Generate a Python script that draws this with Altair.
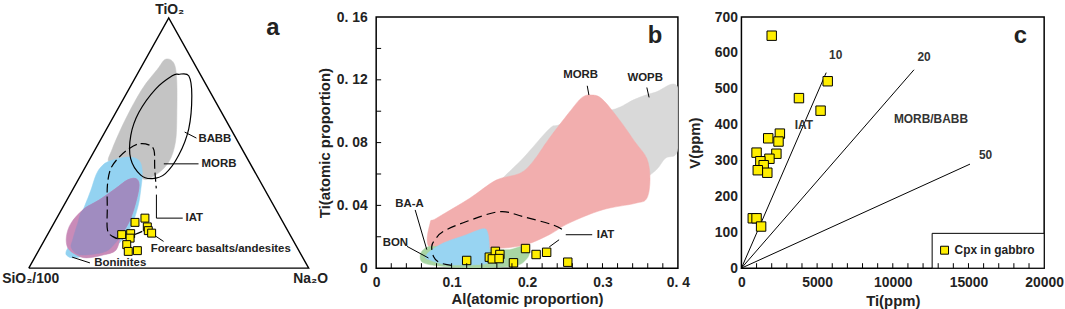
import altair as alt
import pandas as pd

FONT = "Liberation Sans"

# ---------------- panel a : ternary TiO2 (top) - Na2O (right) - SiO2/100 (left) -------------
TRI_T = [0.0, 1.0, 0.0, 0.0]
TRI_N = [0.0, 0.0, 1.0, 0.0]

A_GREY_T = [0.835, 0.821, 0.755, 0.610, 0.504, 0.425, 0.372, 0.358, 0.438, 0.425, 0.477, 0.596, 0.716, 0.795]
A_GREY_N = [0.071, 0.107, 0.151, 0.224, 0.272, 0.288, 0.267, 0.226, 0.139, 0.075, 0.060, 0.048, 0.047, 0.062]

A_BLUE_T = [0.427, 0.444, 0.431, 0.385, 0.317, 0.246, 0.167, 0.100, 0.067, 0.054, 0.041, 0.048, 0.067, 0.114, 0.180, 0.246, 0.312, 0.372, 0.405]
A_BLUE_N = [0.073, 0.130, 0.178, 0.213, 0.242, 0.267, 0.282, 0.273, 0.242, 0.189, 0.143, 0.115, 0.100, 0.100, 0.085, 0.076, 0.066, 0.054, 0.056]

A_PINK_T = [0.352, 0.358, 0.332, 0.266, 0.194, 0.131, 0.071, 0.052, 0.041, 0.054, 0.081, 0.127, 0.180, 0.233, 0.273, 0.319]
A_PINK_N = [0.176, 0.203, 0.228, 0.250, 0.265, 0.265, 0.275, 0.237, 0.185, 0.142, 0.099, 0.071, 0.061, 0.077, 0.116, 0.152]

A_PURP_T = [0.352, 0.358, 0.332, 0.266, 0.194, 0.131, 0.095, 0.067, 0.054, 0.056, 0.083, 0.114, 0.180, 0.233, 0.273, 0.319]
A_PURP_N = [0.176, 0.203, 0.228, 0.250, 0.265, 0.265, 0.257, 0.242, 0.189, 0.146, 0.110, 0.100, 0.085, 0.077, 0.116, 0.152]

A_BABB_T = [0.775, 0.769, 0.689, 0.557, 0.451, 0.378, 0.358, 0.372, 0.438, 0.531, 0.623, 0.716, 0.769]
A_BABB_N = [0.148, 0.187, 0.238, 0.293, 0.310, 0.299, 0.262, 0.214, 0.145, 0.099, 0.082, 0.095, 0.128]

A_IAT_T = [0.147, 0.118, 0.127, 0.154, 0.239, 0.332, 0.398, 0.444, 0.477, 0.497, 0.493, 0.471, 0.398, 0.319]
A_IAT_N = [0.332, 0.275, 0.236, 0.204, 0.161, 0.115, 0.094, 0.101, 0.119, 0.145, 0.182, 0.212, 0.251, 0.296]

A_LEAD_ID = ["babb", "babb", "morb", "morb", "iat", "iat", "iat", "fa", "fa", "bon", "bon"]
A_LEAD_T = [0.544, 0.520, 0.417, 0.417, 0.294, 0.200, 0.200, 0.135, 0.107, 0.044, 0.021]
A_LEAD_N = [0.285, 0.339, 0.274, 0.398, 0.309, 0.356, 0.450, 0.376, 0.428, 0.133, 0.208]

A_LABELS = ["BABB", "MORB", "IAT", "Forearc basalts/andesites", "Boninites"]
A_LABEL_T = [0.516, 0.417, 0.202, 0.075, 0.020]
A_LABEL_N = [0.348, 0.409, 0.459, 0.398, 0.224]

A_CPX_T = [0.200, 0.183, 0.165, 0.150, 0.140, 0.134, 0.138, 0.120, 0.094, 0.067, 0.070]
A_CPX_N = [0.315, 0.288, 0.341, 0.352, 0.369, 0.265, 0.295, 0.302, 0.303, 0.322, 0.353]

# ---------------- panel b : Ti vs Al (atomic proportion) ----------------
B_WOPB_AL = [0.1636, 0.1943, 0.2294, 0.2425, 0.280, 0.317, 0.3434, 0.3697, 0.400, 0.400, 0.383, 0.363, 0.300, 0.200, 0.165]
B_WOPB_TI = [0.0550, 0.0698, 0.0887, 0.0913, 0.0980, 0.1014, 0.1077, 0.1120, 0.1151, 0.0761, 0.0698, 0.0593, 0.0420, 0.0400, 0.0500]

B_MORB_AL = [0.0715, 0.080, 0.124, 0.159, 0.190, 0.2075, 0.229, 0.256, 0.273, 0.2864, 0.2996, 0.3215, 0.3434, 0.3588,
             0.363, 0.3588, 0.3434, 0.2996, 0.2557, 0.2294, 0.1987, 0.168, 0.120, 0.0715]
B_MORB_TI = [0.0287, 0.0318, 0.0445, 0.0561, 0.0603, 0.0677, 0.0824, 0.0993, 0.1088, 0.1103, 0.1077, 0.0951, 0.0803, 0.0698,
             0.0571, 0.0445, 0.0413, 0.0371, 0.0287, 0.0213, 0.0150, 0.0128, 0.0120, 0.0128]

B_GREEN_AL = [0.0583, 0.0627, 0.0759, 0.120, 0.150, 0.1767, 0.1943, 0.203, 0.1987, 0.1812, 0.1197, 0.0846, 0.0627]
B_GREEN_TI = [0.0076, 0.0118, 0.0139, 0.0125, 0.0120, 0.0118, 0.0139, 0.0108, 0.0055, 0.0013, 0.0003, 0.0013, 0.0034]

B_BLUE_AL = [0.0671, 0.0715, 0.089, 0.1197, 0.1417, 0.148, 0.150, 0.148, 0.1417, 0.0978, 0.0825, 0.0693, 0.0649]
B_BLUE_TI = [0.0087, 0.0108, 0.0160, 0.0213, 0.0251, 0.0223, 0.0128, 0.0050, 0.0025, 0.0020, 0.0034, 0.0055, 0.0070]

B_IAT_AL = [0.100, 0.084, 0.076, 0.0737, 0.078, 0.089, 0.1197, 0.1636, 0.1943, 0.2338, 0.2491]
B_IAT_TI = [0.0018, 0.0035, 0.0075, 0.0139, 0.0181, 0.0234, 0.0297, 0.0360, 0.0329, 0.0276, 0.0238]

B_LEAD_ID = ["baa", "baa", "bon", "bon", "iat", "iat", "iat2", "iat2", "morb", "morb", "wopb", "wopb"]
B_LEAD_AL = [0.0517, 0.0671, 0.0408, 0.0693, 0.2513, 0.2864, 0.2294, 0.2425, 0.2798, 0.2820, 0.3588, 0.3618]
B_LEAD_TI = [0.0371, 0.0118, 0.0139, 0.0065, 0.0213, 0.0213, 0.0135, 0.0181, 0.1162, 0.1103, 0.1151, 0.1088]

B_LABELS = ["BA-A", "BON", "IAT", "MORB", "WOPB"]
B_LABEL_AL = [0.0443, 0.0254, 0.304, 0.271, 0.3566]
B_LABEL_TI = [0.0411, 0.0160, 0.0213, 0.1229, 0.1214]

B_CPX_AL = [0.120, 0.150, 0.158, 0.164, 0.154, 0.163, 0.182, 0.198, 0.212, 0.226, 0.254]
B_CPX_TI = [0.0049, 0.0070, 0.0107, 0.0087, 0.0059, 0.0061, 0.0034, 0.0125, 0.0087, 0.0101, 0.0038]

B_XTICK_LABELS = [0, 0.1, 0.2, 0.3, 0.4]
B_YTICK_LABELS = [0, 0.04, 0.08, 0.12, 0.16]
B_XTICKS = [0.02, 0.04, 0.06, 0.08, 0.10, 0.12, 0.14, 0.16, 0.18, 0.20, 0.22, 0.24, 0.26, 0.28, 0.30, 0.32, 0.34, 0.36, 0.38]
B_YTICKS = [0.02, 0.04, 0.06, 0.08, 0.10, 0.12, 0.14]

# ---------------- panel c : V vs Ti (ppm) ----------------
C_CPX_TI = [2000, 5700, 3800, 5230, 2540, 1770, 2450, 2310, 1000, 1850, 1250, 1470, 1080, 1710, 750, 1000, 1300]
C_CPX_V = [648, 521, 474, 439, 375, 362, 353, 319, 322, 305, 298, 287, 273, 266, 139, 139, 116]

C_LINE_ID = ["10", "10", "20", "20", "50", "50"]
C_LINE_TI = [0, 5600, 0, 11400, 0, 15100]
C_LINE_V = [0, 545, 0, 553, 0, 290]

C_LABELS = ["10", "20", "50", "IAT", "MORB/BABB"]
C_LABEL_TI = [6230, 12070, 16130, 4130, 12520]
C_LABEL_V = [595, 589, 315, 398, 415]

C_XTICK_LABELS = [0, 5000, 10000, 15000, 20000]
C_YTICK_LABELS = [0, 100, 200, 300, 400, 500, 600, 700]
C_XTICKS = [1000, 2000, 3000, 4000, 5000, 6000, 7000, 8000, 9000, 10000, 11000, 12000, 13000, 14000, 15000,
            16000, 17000, 18000, 19000]

LEG_BOX_TI = [12600]
LEG_BOX_TI2 = [20000]
LEG_BOX_V = [0]
LEG_BOX_V2 = [97]
LEG_MARK_TI = [13420]
LEG_TEXT_TI = [14080]
LEG_V = [50]
LEG_TEXT = ["Cpx in gabbro"]

YELLOW = "#FFEE00"


def seq(**cols):
    df = pd.DataFrame(cols)
    df["i"] = range(len(df))
    return df


# ================= panel a =================
XA = alt.Scale(domain=[-0.1028, 1.0142], nice=False, zero=False)
YA = alt.Scale(domain=[0, 0.8694], nice=False, zero=False)


def tern(df):
    return alt.Chart(df).transform_calculate(x="datum.N + datum.T / 2", y="datum.T * sqrt(3) / 2")


def axy(**kw):
    return dict(x=alt.X("x:Q", scale=XA, axis=None), y=alt.Y("y:Q", scale=YA, axis=None), **kw)


def poly_a(T, N, color):
    return tern(seq(T=T, N=N)).mark_line(fill=color, stroke=color, strokeWidth=0.5,
                                         interpolate="cardinal-closed").encode(**axy(order="i:Q"))


a_tri = tern(seq(T=TRI_T, N=TRI_N)).mark_line(color="black", strokeWidth=1.4).encode(**axy(order="i:Q"))
a_grey = poly_a(A_GREY_T, A_GREY_N, "#C4C4C4")
a_blue = poly_a(A_BLUE_T, A_BLUE_N, "#93D2F1")
a_pink = poly_a(A_PINK_T, A_PINK_N, "#C98BB8")
a_purp = poly_a(A_PURP_T, A_PURP_N, "#A08CC0")
a_babb = tern(seq(T=A_BABB_T, N=A_BABB_N)).mark_line(color="black", strokeWidth=1.2, fillOpacity=0,
                                                     interpolate="cardinal-closed").encode(**axy(order="i:Q"))
a_iat = tern(seq(T=A_IAT_T, N=A_IAT_N)).mark_line(color="black", strokeWidth=1.2, strokeDash=[9, 4],
                                                  interpolate="cardinal").encode(**axy(order="i:Q"))
a_lead = tern(seq(T=A_LEAD_T, N=A_LEAD_N, id=A_LEAD_ID)).mark_line(color="black", strokeWidth=1).encode(
    **axy(order="i:Q", detail="id:N"))
a_text = tern(pd.DataFrame({"T": A_LABEL_T, "N": A_LABEL_N, "label": A_LABELS})).mark_text(
    align="left", baseline="middle", font=FONT, fontWeight="bold", fontSize=11.5, color="#222222").encode(
    **axy(text="label:N"))
a_cpx = tern(pd.DataFrame({"T": A_CPX_T, "N": A_CPX_N})).mark_point(
    shape="square", filled=True, fill=YELLOW, stroke="black", strokeWidth=1, size=64, opacity=1).encode(**axy())


def vertex_label(T, N, label, dx, dy, size):
    return tern(pd.DataFrame({"T": [T], "N": [N], "label": [label]})).mark_text(
        align="center", baseline="middle", font=FONT, fontWeight="bold", fontSize=size, color="#222222",
        dx=dx, dy=dy).encode(**axy(text="label:N"))


a_ti = vertex_label(1.0, 0.0, "TiO₂", 1, -8, 14)
a_si = vertex_label(0.0, 0.0, "SiO₂/100", 2, 11, 14)
a_na = vertex_label(0.0, 1.0, "Na₂O", 2, 11, 14)
a_letter = tern(pd.DataFrame({"T": [0.960], "N": [0.392], "label": ["a"]})).mark_text(
    align="center", baseline="middle", font=FONT, fontWeight="bold", fontSize=24, color="#222222").encode(
    **axy(text="label:N"))

panel_a = alt.layer(a_grey, a_blue, a_pink, a_purp, a_babb, a_iat, a_lead, a_tri, a_cpx, a_text,
                    a_ti, a_si, a_na, a_letter).properties(width=315, height=253)

# ================= panel b =================
XB = alt.Scale(domain=[0, 0.4], nice=False, zero=False)
YB = alt.Scale(domain=[0, 0.16], nice=False, zero=False)
AXB_X = alt.Axis(values=B_XTICK_LABELS, title="Al(atomic proportion)",
                 labelExpr="datum.value == 0 ? '0' : (datum.value > 0.39 ? '0. 4' : format(datum.value, '.1f'))",
                 labelPadding=7, titlePadding=3)
AXB_Y = alt.Axis(values=B_YTICK_LABELS, title="Ti(atomic proportion)",
                 labelExpr="datum.value == 0 ? '0' : replace(format(datum.value, '.2f'), '.', '. ')",
                 labelPadding=9, titlePadding=4)


def bx():
    return alt.X("Al:Q", scale=XB, axis=AXB_X)


def by():
    return alt.Y("Ti:Q", scale=YB, axis=AXB_Y)


def poly_b(A, T, color):
    return alt.Chart(seq(Al=A, Ti=T)).mark_line(fill=color, stroke=color, strokeWidth=0.5, clip=True,
                                                interpolate="cardinal-closed").encode(x=bx(), y=by(), order="i:Q")


b_wopb = poly_b(B_WOPB_AL, B_WOPB_TI, "#D9D9D9")
b_morb = poly_b(B_MORB_AL, B_MORB_TI, "#F2AEAE")
b_green = poly_b(B_GREEN_AL, B_GREEN_TI, "#A8D5A3")
b_blue = poly_b(B_BLUE_AL, B_BLUE_TI, "#98D4F2")
b_iat = alt.Chart(seq(Al=B_IAT_AL, Ti=B_IAT_TI)).mark_line(
    color="black", strokeWidth=1.2, strokeDash=[9, 5], interpolate="cardinal").encode(x=bx(), y=by(), order="i:Q")
b_lead = alt.Chart(seq(Al=B_LEAD_AL, Ti=B_LEAD_TI, id=B_LEAD_ID)).mark_line(color="black", strokeWidth=1).encode(
    x=bx(), y=by(), order="i:Q", detail="id:N")
b_cpx = alt.Chart(pd.DataFrame({"Al": B_CPX_AL, "Ti": B_CPX_TI})).mark_point(
    shape="square", filled=True, fill=YELLOW, stroke="black", strokeWidth=1, size=72, opacity=1).encode(x=bx(), y=by())
b_text = alt.Chart(pd.DataFrame({"Al": B_LABEL_AL, "Ti": B_LABEL_TI, "label": B_LABELS})).mark_text(
    align="center", baseline="middle", font=FONT, fontWeight="bold", fontSize=11.5, color="#222222").encode(
    x=bx(), y=by(), text="label:N")
b_letter = alt.Chart(pd.DataFrame({"Al": [0.3697], "Ti": [0.1482], "label": ["b"]})).mark_text(
    align="center", baseline="middle", font=FONT, fontWeight="bold", fontSize=24, color="#222222").encode(
    x=bx(), y=by(), text="label:N")
b_xt = alt.Chart(pd.DataFrame({"Al": B_XTICKS})).mark_rule(color="black", strokeWidth=1).encode(
    x=bx(), y=alt.value(253), y2=alt.value(248))
b_yt = alt.Chart(pd.DataFrame({"Ti": B_YTICKS})).mark_rule(color="black", strokeWidth=1).encode(
    y=by(), x=alt.value(0), x2=alt.value(5))

panel_b = alt.layer(b_wopb, b_morb, b_green, b_blue, b_iat, b_lead, b_cpx, b_text, b_letter, b_xt, b_yt).properties(
    width=304, height=253, view=alt.ViewBackground(stroke="black", strokeWidth=1.5, strokeOpacity=1))

# ================= panel c =================
XC = alt.Scale(domain=[0, 20000], nice=False, zero=False)
YC = alt.Scale(domain=[0, 700], nice=False, zero=False)
AXC_X = alt.Axis(values=C_XTICK_LABELS, format="d", title="Ti(ppm)", labelPadding=7, titlePadding=5)
AXC_Y = alt.Axis(values=C_YTICK_LABELS, format="d", title="V(ppm)", labelPadding=4, titlePadding=12)


def cx(f="Ti"):
    return alt.X(f + ":Q", scale=XC, axis=AXC_X)


def cy(f="V"):
    return alt.Y(f + ":Q", scale=YC, axis=AXC_Y)


c_lines = alt.Chart(seq(Ti=C_LINE_TI, V=C_LINE_V, id=C_LINE_ID)).mark_line(color="black", strokeWidth=1).encode(
    x=cx(), y=cy(), order="i:Q", detail="id:N")
c_cpx = alt.Chart(pd.DataFrame({"Ti": C_CPX_TI, "V": C_CPX_V})).mark_point(
    shape="square", filled=True, fill=YELLOW, stroke="black", strokeWidth=1, size=90, opacity=1).encode(x=cx(), y=cy())
c_text = alt.Chart(pd.DataFrame({"Ti": C_LABEL_TI, "V": C_LABEL_V, "label": C_LABELS})).mark_text(
    align="center", baseline="middle", font=FONT, fontWeight="bold", fontSize=12, color="#333333").encode(
    x=cx(), y=cy(), text="label:N")
c_letter = alt.Chart(pd.DataFrame({"Ti": [18430], "V": [647], "label": ["c"]})).mark_text(
    align="center", baseline="middle", font=FONT, fontWeight="bold", fontSize=24, color="#222222").encode(
    x=cx(), y=cy(), text="label:N")
c_box = alt.Chart(pd.DataFrame({"Ti": LEG_BOX_TI, "Ti2": LEG_BOX_TI2, "V": LEG_BOX_V, "V2": LEG_BOX_V2})).mark_rect(
    fill="white", stroke="black", strokeWidth=1).encode(x=cx(), x2="Ti2:Q", y=cy(), y2="V2:Q")
c_legmark = alt.Chart(pd.DataFrame({"Ti": LEG_MARK_TI, "V": LEG_V})).mark_point(
    shape="square", filled=True, fill=YELLOW, stroke="black", strokeWidth=1, size=64, opacity=1).encode(x=cx(), y=cy())
c_legtext = alt.Chart(pd.DataFrame({"Ti": LEG_TEXT_TI, "V": LEG_V, "label": LEG_TEXT})).mark_text(
    align="left", baseline="middle", font=FONT, fontWeight="bold", fontSize=12, color="#222222").encode(
    x=cx(), y=cy(), text="label:N")
c_xt = alt.Chart(pd.DataFrame({"Ti": C_XTICKS})).mark_rule(color="black", strokeWidth=1).encode(
    x=cx(), y=alt.value(253), y2=alt.value(248))

panel_c = alt.layer(c_lines, c_cpx, c_text, c_letter, c_box, c_legmark, c_legtext, c_xt).properties(
    width=305, height=253, view=alt.ViewBackground(stroke="black", strokeWidth=1.5, strokeOpacity=1))

chart = alt.hconcat(panel_a, panel_b, panel_c, spacing=64, bounds="flush").properties(
    padding={"left": 0, "top": 1, "right": 0, "bottom": 0}
).configure_view(strokeOpacity=0).configure_axis(
    grid=False, ticks=False, domain=False, labelFlush=False,
    labelFont=FONT, labelFontWeight="bold", labelFontSize=14, labelColor="#222222",
    titleFont=FONT, titleFontWeight="bold", titleFontSize=15, titleColor="#222222"
)

chart.save("out.html", embed_options={"renderer": "svg", "actions": False})
